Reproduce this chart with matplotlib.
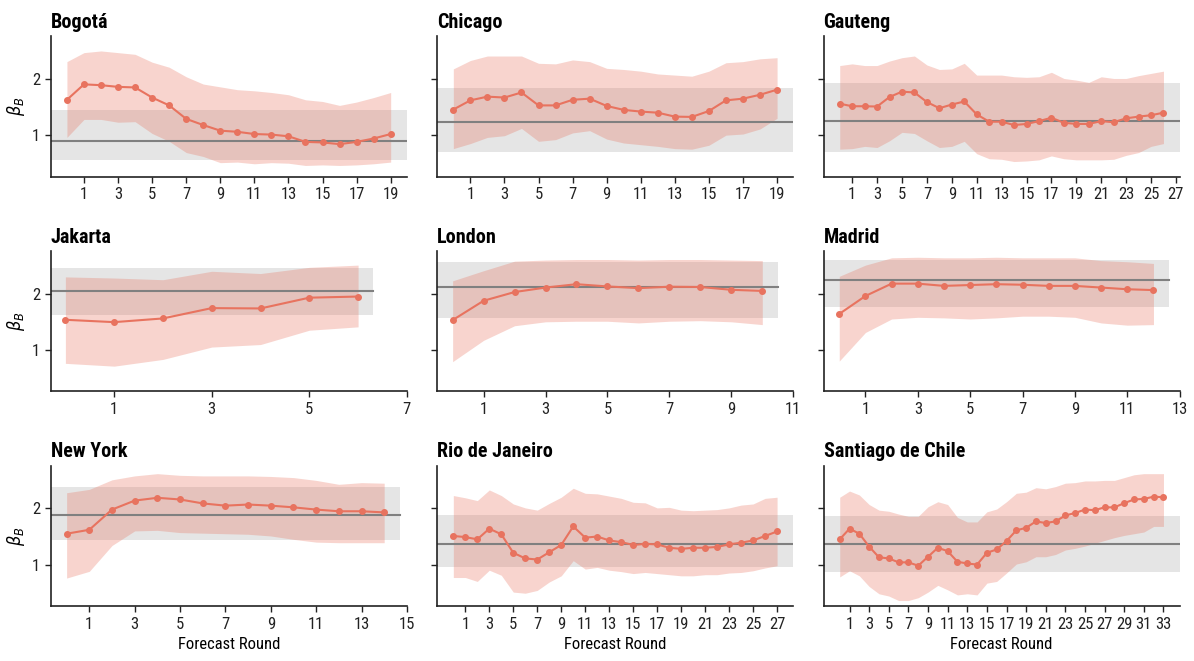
import matplotlib
matplotlib.use("Agg")
import matplotlib.pyplot as plt
import numpy as np

plt.rcParams['font.family'] = ['Liberation Sans Narrow', 'Roboto Condensed', 'DejaVu Sans']
plt.rcParams['font.stretch'] = 'condensed'

cities = ["Bogotá", "Chicago", "Gauteng", "Jakarta", "London", "Madrid",
          "New York", "Rio de Janeiro", "Santiago de Chile"]

# mean estimate per forecast round
bogota_mean = [1.63, 1.905, 1.89, 1.86, 1.85, 1.67, 1.53, 1.29, 1.18, 1.08,
               1.06, 1.02, 1.01, 0.98, 0.88, 0.87, 0.84, 0.88, 0.94, 1.02]
bogota_hi = [2.31, 2.47, 2.50, 2.47, 2.44, 2.30, 2.21, 2.04, 1.91, 1.86,
             1.81, 1.79, 1.76, 1.72, 1.63, 1.60, 1.53, 1.59, 1.67, 1.76]
bogota_lo = [0.96, 1.28, 1.28, 1.23, 1.24, 1.03, 0.89, 0.69, 0.62, 0.51,
             0.52, 0.49, 0.51, 0.50, 0.46, 0.47, 0.46, 0.47, 0.49, 0.52]

chicago_mean = [1.456, 1.62, 1.686, 1.67, 1.76, 1.53, 1.53, 1.63, 1.65, 1.52,
                1.45, 1.42, 1.40, 1.33, 1.325, 1.43, 1.62, 1.65, 1.72, 1.81]
chicago_hi = [2.18, 2.33, 2.41, 2.41, 2.41, 2.28, 2.27, 2.34, 2.31, 2.19,
              2.17, 2.14, 2.09, 2.07, 2.05, 2.14, 2.29, 2.31, 2.36, 2.38]
chicago_lo = [0.76, 0.85, 0.96, 0.99, 1.12, 0.89, 0.92, 1.04, 1.08, 0.93,
              0.86, 0.83, 0.80, 0.76, 0.75, 0.82, 1.00, 1.02, 1.11, 1.30]

gauteng_mean = [1.56, 1.515, 1.515, 1.51, 1.68, 1.775, 1.76, 1.59, 1.48, 1.545,
                1.60, 1.37, 1.24, 1.24, 1.18, 1.20, 1.25, 1.31, 1.22, 1.20,
                1.20, 1.25, 1.23, 1.30, 1.33, 1.355, 1.40]
gauteng_hi = [2.24, 2.27, 2.24, 2.24, 2.32, 2.38, 2.41, 2.25, 2.17, 2.18,
              2.28, 2.07, 2.07, 2.07, 2.04, 2.03, 2.04, 2.12, 2.01, 1.98,
              1.94, 2.04, 2.01, 2.01, 2.06, 2.10, 2.14]
gauteng_lo = [0.75, 0.76, 0.80, 0.78, 0.90, 1.05, 1.03, 0.90, 0.78, 0.80,
              0.89, 0.67, 0.58, 0.57, 0.53, 0.54, 0.56, 0.63, 0.58, 0.56,
              0.56, 0.56, 0.57, 0.64, 0.69, 0.80, 0.85]

jakarta_mean = [1.536, 1.494, 1.56, 1.744, 1.738, 1.93, 1.95]
jakarta_hi = [2.30, 2.28, 2.25, 2.40, 2.36, 2.47, 2.51]
jakarta_lo = [0.76, 0.71, 0.83, 1.05, 1.095, 1.35, 1.41]

london_mean = [1.53, 1.875, 2.03, 2.11, 2.17, 2.13, 2.10, 2.125, 2.12, 2.07, 2.05]
london_hi = [2.23, 2.41, 2.58, 2.60, 2.61, 2.61, 2.60, 2.61, 2.61, 2.60, 2.59]
london_lo = [0.79, 1.17, 1.43, 1.50, 1.51, 1.51, 1.48, 1.51, 1.52, 1.50, 1.45]

madrid_mean = [1.64, 1.96, 2.18, 2.18, 2.14, 2.155, 2.17, 2.16, 2.14, 2.14,
               2.11, 2.08, 2.065]
madrid_hi = [2.31, 2.51, 2.64, 2.65, 2.64, 2.64, 2.65, 2.64, 2.64, 2.64,
             2.59, 2.57, 2.54]
madrid_lo = [0.80, 1.31, 1.55, 1.58, 1.57, 1.55, 1.57, 1.60, 1.60, 1.58,
             1.48, 1.44, 1.45]

newyork_mean = [1.55, 1.62, 1.98, 2.14, 2.19, 2.16, 2.09, 2.05, 2.07, 2.05,
                2.02, 1.98, 1.95, 1.95, 1.93]
newyork_hi = [2.28, 2.34, 2.51, 2.58, 2.62, 2.59, 2.58, 2.58, 2.58, 2.57,
              2.55, 2.50, 2.43, 2.46, 2.45]
newyork_lo = [0.76, 0.88, 1.34, 1.60, 1.61, 1.57, 1.56, 1.55, 1.54, 1.51,
              1.45, 1.40, 1.39, 1.39, 1.39]

rio_mean = [1.51, 1.49, 1.45, 1.64, 1.54, 1.21, 1.11, 1.09, 1.22, 1.35,
            1.68, 1.48, 1.50, 1.43, 1.40, 1.35, 1.37, 1.36, 1.30, 1.28,
            1.30, 1.30, 1.315, 1.36, 1.39, 1.43, 1.51, 1.59]
rio_hi = [2.23, 2.19, 2.14, 2.33, 2.23, 2.08, 2.01, 1.97, 2.09, 2.20,
          2.36, 2.27, 2.26, 2.22, 2.18, 2.11, 2.10, 2.01, 2.02, 1.97,
          1.96, 1.97, 1.98, 2.01, 2.06, 2.08, 2.18, 2.20]
rio_lo = [0.77, 0.77, 0.70, 0.90, 0.81, 0.51, 0.49, 0.54, 0.69, 0.80,
          1.07, 0.92, 0.95, 0.90, 0.875, 0.84, 0.86, 0.84, 0.82, 0.80,
          0.80, 0.82, 0.82, 0.85, 0.86, 0.89, 0.94, 0.98]

santiago_mean = [1.45, 1.64, 1.55, 1.32, 1.13, 1.11, 1.04, 1.04, 0.98, 1.14,
                 1.30, 1.24, 1.05, 1.02, 1.00, 1.21, 1.27, 1.42, 1.61, 1.655,
                 1.77, 1.74, 1.77, 1.875, 1.92, 1.98, 1.97, 2.02, 2.02, 2.095,
                 2.16, 2.17, 2.21, 2.20]
santiago_hi = [2.20, 2.31, 2.24, 2.07, 1.97, 1.95, 1.90, 1.86, 1.86, 2.03,
               2.12, 2.07, 1.84, 1.76, 1.76, 1.94, 1.99, 2.12, 2.27, 2.29,
               2.37, 2.35, 2.39, 2.45, 2.46, 2.49, 2.49, 2.50, 2.50, 2.55,
               2.60, 2.62, 2.62, 2.62]
santiago_lo = [0.78, 0.89, 0.80, 0.61, 0.48, 0.44, 0.36, 0.36, 0.41, 0.51,
               0.63, 0.55, 0.46, 0.48, 0.46, 0.67, 0.70, 0.85, 1.01, 1.05,
               1.14, 1.14, 1.18, 1.26, 1.29, 1.33, 1.38, 1.43, 1.48, 1.52,
               1.55, 1.58, 1.68, 1.68]

# reference value per city with its interval
ref_value = [0.90, 1.243, 1.25, 2.054, 2.12, 2.25, 1.887, 1.37, 1.37]
ref_hi = [1.456, 1.846, 1.935, 2.46, 2.57, 2.60, 2.375, 1.89, 1.87]
ref_lo = [0.556, 0.70, 0.70, 1.63, 1.56, 1.77, 1.435, 0.95, 0.86]

means = [bogota_mean, chicago_mean, gauteng_mean, jakarta_mean, london_mean,
         madrid_mean, newyork_mean, rio_mean, santiago_mean]
highs = [bogota_hi, chicago_hi, gauteng_hi, jakarta_hi, london_hi,
         madrid_hi, newyork_hi, rio_hi, santiago_hi]
lows = [bogota_lo, chicago_lo, gauteng_lo, jakarta_lo, london_lo,
        madrid_lo, newyork_lo, rio_lo, santiago_lo]

c_line = "#E8735F"

fig, axes = plt.subplots(3, 3, figsize=(11.94, 6.61), dpi=100, sharey=True)
fig.subplots_adjust(left=0.0425, right=0.988, top=0.945, bottom=0.083,
                    wspace=0.085, hspace=0.53)

for i, ax in enumerate(axes.flat):
    m = np.array(means[i])
    x = np.arange(len(m))
    n = x[-1]
    lo, hi = -0.05 * n, 1.05 * n

    # reference band + its central value
    ax.fill_between([lo, hi], ref_lo[i], ref_hi[i], color="gray", alpha=0.2,
                    linewidth=0)
    ax.plot([lo, hi], [ref_value[i], ref_value[i]], color="gray", lw=1.5)
    # estimate per round with its interval
    ax.fill_between(x, lows[i], highs[i], color=c_line, alpha=0.3, linewidth=0)
    ax.plot(x, m, color=c_line, marker="o", ms=4, lw=1.5)

    ticks = list(range(1, n + 2, 2))
    ax.set_xticks(ticks)
    ax.set_xlim(lo, max(hi, ticks[-1]))
    ax.set_ylim(0.26, 2.76)
    ax.set_yticks([1, 2])
    ax.tick_params(labelsize=12, length=4, width=1, colors="#222222")
    ax.spines[["top", "right"]].set_visible(False)
    for s in ["left", "bottom"]:
        ax.spines[s].set_linewidth(1.2)
        ax.spines[s].set_color("#222222")
    ax.set_title(cities[i], loc="left", fontsize=14.5, fontweight="bold", pad=6)
    if i % 3 == 0:
        ax.set_ylabel(r"$\beta_B$", fontsize=13)
    if i >= 6:
        ax.set_xlabel("Forecast Round", fontsize=12)

fig.savefig("out.png", dpi=100)
